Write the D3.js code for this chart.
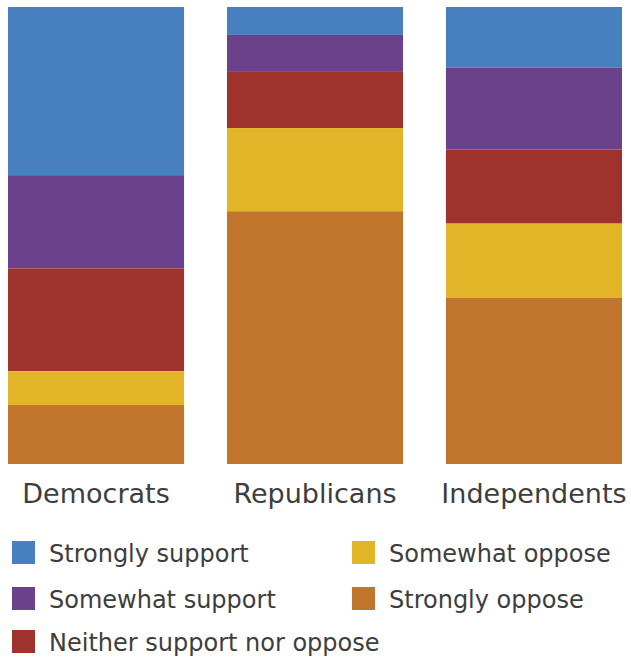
<!DOCTYPE html>
<html>
<head>
<meta charset="utf-8">
<script src="https://cdn.jsdelivr.net/npm/d3@7"></script>
<style>
  body { margin: 0; background: #fff; }
  text { font-family: "DejaVu Sans", sans-serif; fill: #3d3d3d; }
</style>
</head>
<body>
<svg id="chart" width="631" height="658"></svg>
<script>
// data (percent of each group)
const categories = ['Democrats', 'Republicans', 'Independents'];
const keys = ['Strongly support', 'Somewhat support', 'Neither support nor oppose', 'Somewhat oppose', 'Strongly oppose'];
const stronglySupport = [36.8, 6.1, 13.3];
const somewhatSupport = [20.4, 8.1, 17.9];
const neither = [22.5, 12.3, 16.2];
const somewhatOppose = [7.4, 18.2, 16.2];
const stronglyOppose = [12.9, 55.3, 36.4];
const colors = ['#4880bf', '#6c418c', '#a0322d', '#e2b427', '#c1742b'];

const barTop = 7, barBottom = 464;

// build rows for d3.stack
const series = [stronglySupport, somewhatSupport, neither, somewhatOppose, stronglyOppose];
const rows = categories.map((c, i) => {
  const r = { group: c };
  keys.forEach((k, j) => { r[k] = series[j][i]; });
  return r;
});

const x = d3.scaleBand()
  .domain(categories)
  .range([8, 622])
  .paddingInner(0.196)
  .paddingOuter(0);

// stack from top: first key at the top of the bar
const y = d3.scaleLinear().domain([0, 100]).range([barTop, barBottom]);
const color = d3.scaleOrdinal().domain(keys).range(colors);

const stacked = d3.stack().keys(keys)(rows);

const svg = d3.select('#chart');

svg.append('g')
  .selectAll('g')
  .data(stacked)
  .join('g')
    .attr('fill', d => color(d.key))
  .selectAll('rect')
  .data(d => d)
  .join('rect')
    .attr('x', d => x(d.data.group))
    .attr('y', d => y(d[0]))
    .attr('width', x.bandwidth())
    .attr('height', d => y(d[1]) - y(d[0]));

// category labels
svg.append('g')
  .selectAll('text')
  .data(categories)
  .join('text')
    .attr('x', d => x(d) + x.bandwidth() / 2)
    .attr('y', 503)
    .attr('text-anchor', 'middle')
    .style('font-size', '27px')
    .text(d => d);

// legend: two columns
const legendPos = [
  { x: 12, y: 541 }, { x: 12, y: 587 }, { x: 12, y: 630 },
  { x: 352, y: 541 }, { x: 352, y: 587 }
];
const legend = svg.append('g')
  .selectAll('g')
  .data(keys)
  .join('g')
    .attr('transform', (d, i) => `translate(${legendPos[i].x},${legendPos[i].y})`);

legend.append('rect')
  .attr('width', 23)
  .attr('height', 23)
  .attr('fill', d => color(d));

legend.append('text')
  .attr('x', 37)
  .attr('y', 21)
  .style('font-size', '24px')
  .text(d => d);
</script>
</body>
</html>
